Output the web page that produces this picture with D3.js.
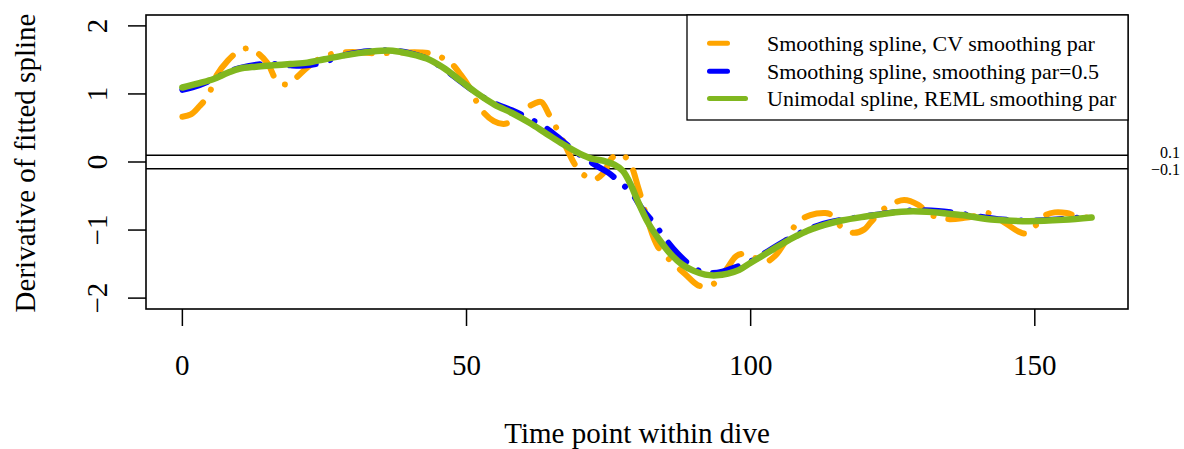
<!DOCTYPE html>
<html><head><meta charset="utf-8">
<script src="https://cdn.jsdelivr.net/npm/d3@7"></script>
<style>body{margin:0;background:#fff}</style>
</head><body><svg id="c" width="1184" height="449"></svg>
<script>
// ---- data ----
const xTicks = [0, 50, 100, 150];
const yTicks = [-2, -1, 0, 1, 2];
const refLines = [0.1, -0.1];
const refLabels = ["0.1", "\u22120.1"];
const seriesNames = ["Smoothing spline, CV smoothing par", "Smoothing spline, smoothing par=0.5", "Unimodal spline, REML smoothing par"];
const seriesColors = ["#FFA500", "#0000FF", "#80B71F"];

const tOrange = [0,1.5,3,4.5,6,8,10,11.5,13.1,15,16.6,18.2,19.9,22,24.6,27,30,33,36,39,42,44,46,47.2,49,50.7,52.5,54.8,56.5,57.5,59,60.4,62.2,63.2,64.5,66.7,69.1,70.5,72.3,74,75.6,77,78.6,80.3,82,83.7,86,88.5,90.7,92.3,94,95.8,97.5,99,100.8,102.8,104.3,105.7,107.5,109,110.5,112.8,113.8,115.5,116.8,118.2,120,121.1,123,124.5,127,129.5,131,132.4,135,137.6,139.7,141.8,144.5,147.1,148.5,150.3,151.5,153.5,155.6,157.5,160];
const vOrange = [0.665,0.70,0.82,0.97,1.27,1.49,1.635,1.67,1.61,1.45,1.20,1.14,1.23,1.39,1.54,1.60,1.615,1.60,1.60,1.61,1.61,1.59,1.52,1.46,1.28,1.07,0.78,0.60,0.56,0.58,0.67,0.78,0.87,0.88,0.70,0.36,-0.04,-0.18,-0.26,-0.17,0.06,0.12,0.01,-0.40,-0.89,-1.25,-1.46,-1.65,-1.81,-1.83,-1.76,-1.57,-1.38,-1.35,-1.41,-1.46,-1.38,-1.22,-0.97,-0.84,-0.78,-0.75,-0.76,-0.92,-1.00,-1.04,-0.99,-0.89,-0.72,-0.63,-0.56,-0.63,-0.73,-0.80,-0.84,-0.82,-0.79,-0.75,-0.88,-1.02,-1.05,-0.92,-0.80,-0.74,-0.75,-0.80,-0.82];

const tBlue = [0,3,5.5,8,10,13,16,19,22,25,28,31,35,38,40,43,46,49,52,55,58,61,64,67,70,73,75,77,79,81,83,85,87,89,91,93,95,97,100,104,108,112,116,120,125,129,133,137,141,145,149,153,157,160];
const vBlue = [1.06,1.13,1.22,1.32,1.38,1.43,1.44,1.42,1.42,1.47,1.56,1.61,1.64,1.63,1.60,1.52,1.37,1.18,1.00,0.86,0.76,0.64,0.50,0.30,0.10,-0.06,-0.16,-0.30,-0.45,-0.70,-0.90,-1.13,-1.33,-1.49,-1.60,-1.63,-1.61,-1.555,-1.46,-1.26,-1.07,-0.93,-0.85,-0.80,-0.74,-0.71,-0.72,-0.76,-0.81,-0.85,-0.86,-0.85,-0.82,-0.81];

const tGreen = [0,3,5.5,8,10,13,16,19,22,25,28,31,35,37,40,43,46,49,52,55,58,61,64,67,70,72,74,76,77.5,79,80,82,84,86,88,90,92,94,96,98,100,102,104,106,108,110,112,114,116,119.5,123,126.5,131,137,143,149,155,160];
const vGreen = [1.095,1.16,1.22,1.31,1.37,1.40,1.42,1.44,1.46,1.51,1.56,1.60,1.635,1.635,1.59,1.52,1.38,1.19,1.00,0.84,0.72,0.58,0.42,0.26,0.12,0.05,0.02,-0.04,-0.13,-0.35,-0.55,-0.90,-1.15,-1.36,-1.51,-1.60,-1.655,-1.665,-1.64,-1.585,-1.48,-1.38,-1.28,-1.18,-1.09,-1.01,-0.95,-0.90,-0.86,-0.81,-0.77,-0.73,-0.73,-0.78,-0.85,-0.87,-0.85,-0.815];

// ---- layout ----
const svg = d3.select("#c");
const L = 146, R = 1128, T = 15, B = 309;
const x = d3.scaleLinear().domain([-6.4, 166.4]).range([L, R]);
const y = d3.scaleLinear().domain([-2.16, 2.16]).range([B, T]);
const font = "'Liberation Serif','Times New Roman',serif";

svg.append("clipPath").attr("id","pc").append("rect")
  .attr("x", L).attr("y", T).attr("width", R - L).attr("height", B - T);

const line = d3.line().x(d => x(d[0])).y(d => y(d[1])).curve(d3.curveCatmullRom.alpha(0.5));
const g = svg.append("g").attr("clip-path", "url(#pc)");

// reference lines
g.selectAll("line.ref").data(refLines).enter().append("line")
  .attr("x1", L).attr("x2", R).attr("y1", d => y(d)).attr("y2", d => y(d))
  .attr("stroke", "#000").attr("stroke-width", 1.6);

const series = [
  {t: tOrange, v: vOrange, c: seriesColors[0], w: 6, dash: "26 15 0.01 15"},
  {t: tBlue, v: vBlue, c: seriesColors[1], w: 6, dash: "26 15 0.01 15"},
  {t: tGreen, v: vGreen, c: seriesColors[2], w: 6.5, dash: null}
];
series.forEach(s => {
  g.append("path").datum(s.t.map((t, i) => [t, s.v[i]]))
    .attr("d", line).attr("fill", "none").attr("stroke", s.c)
    .attr("stroke-width", s.w).attr("stroke-linecap", "round").attr("stroke-linejoin", "round")
    .attr("stroke-dasharray", s.dash);
});

// box
svg.append("rect").attr("x", L).attr("y", T).attr("width", R - L).attr("height", B - T)
  .attr("fill", "none").attr("stroke", "#000").attr("stroke-width", 1.6);

// x axis
const xa = svg.append("g");
xa.selectAll("line.t").data(xTicks).enter().append("line")
  .attr("x1", d => x(d)).attr("x2", d => x(d)).attr("y1", B).attr("y2", B + 17)
  .attr("stroke", "#000").attr("stroke-width", 1.5);
xa.selectAll("text").data(xTicks).enter().append("text")
  .attr("x", d => x(d)).attr("y", 375).attr("text-anchor", "middle")
  .attr("font-family", font).attr("font-size", 29).text(d => d3.format("d")(d));

// y axis
const ya = svg.append("g");
ya.selectAll("line.t").data(yTicks).enter().append("line")
  .attr("x1", L - 18).attr("x2", L).attr("y1", d => y(d)).attr("y2", d => y(d))
  .attr("stroke", "#000").attr("stroke-width", 1.5);
ya.selectAll("text").data(yTicks).enter().append("text")
  .attr("transform", d => `translate(107,${y(d)}) rotate(-90)`)
  .attr("text-anchor", "middle").attr("font-family", font).attr("font-size", 29)
  .text(d => d < 0 ? "\u2212" + Math.abs(d) : String(d));

// right labels
svg.selectAll("text.rl").data(refLabels).enter().append("text")
  .attr("x", 1180).attr("y", (d, i) => i === 0 ? 158 : 175).attr("text-anchor", "end")
  .attr("font-family", font).attr("font-size", 16).text(d => d);

// titles
svg.append("text").attr("x", (L + R) / 2).attr("y", 443).attr("text-anchor", "middle")
  .attr("font-family", font).attr("font-size", 29).text("Time point within dive");
svg.append("text").attr("transform", `translate(35,${(T + B) / 2 + 1}) rotate(-90)`)
  .attr("text-anchor", "middle").attr("font-family", font).attr("font-size", 29)
  .text("Derivative of fitted spline");

// legend
const lg = svg.append("g");
lg.append("rect").attr("x", 687).attr("y", T).attr("width", R - 687).attr("height", 120 - T)
  .attr("fill", "#fff").attr("stroke", "#000").attr("stroke-width", 1.3);
const rowY = [43.3, 71.2, 98.5];
const legDash = ["18 18 0.01 15", "18 18 0.01 15", null];
seriesNames.forEach((n, i) => {
  lg.append("line").attr("x1", 709.5).attr("x2", 745.5).attr("y1", rowY[i]).attr("y2", rowY[i])
    .attr("stroke", seriesColors[i]).attr("stroke-width", 5).attr("stroke-linecap", "round")
    .attr("stroke-dasharray", legDash[i]);
  lg.append("text").attr("x", 767).attr("y", rowY[i] + 7.3)
    .attr("font-family", font).attr("font-size", 22).text(n);
});
</script></body></html>
